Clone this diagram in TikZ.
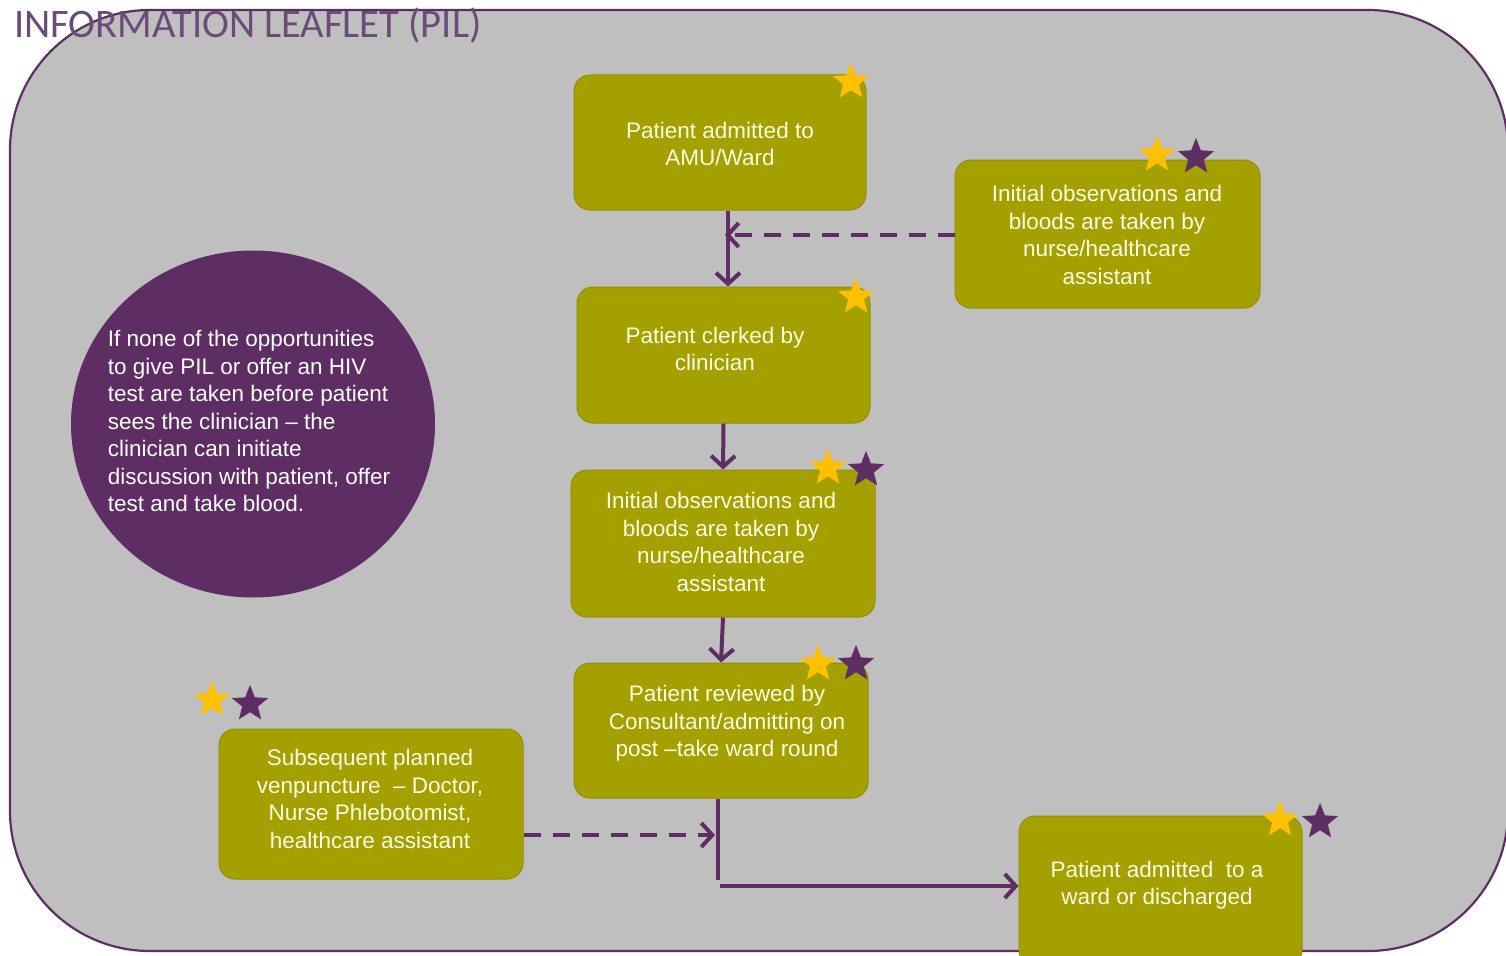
\documentclass[tikz,border=0pt]{standalone}
\usepackage{fontspec}
\setmainfont{Liberation Sans}
\newfontfamily\titlefont{Carlito}
\usetikzlibrary{shapes.geometric,arrows.meta}
\definecolor{bg}{HTML}{BFBFBF}
\definecolor{olive}{HTML}{A3A000}
\definecolor{plum}{HTML}{5E2D63}
\definecolor{gold}{HTML}{FFC000}
\definecolor{cream}{HTML}{FFFFE6}
\definecolor{titlecol}{HTML}{6B4C78}
\begin{document}
\begin{tikzpicture}[x=1pt,y=-1pt,
 stepbox/.style={draw=olive!90!black, line width=1pt, fill=olive, rounded corners=16pt, inner sep=0pt},
 boxtxt/.style={text=cream, align=center, font=\fontsize{22.5}{27.5}\selectfont, inner sep=0pt},
 ystar/.style={star, star points=5, star point ratio=2.3, fill=gold, minimum size=38pt, inner sep=0pt},
 pstar/.style={ystar, fill=plum},
 flow/.style={draw=plum, line width=4pt, -{Straight Barb[length=11pt,width=24pt,line width=4pt]}},
 dflow/.style={flow, dash pattern=on 17pt off 12pt}]
\useasboundingbox (0,0) rectangle (1506,955);
\fill[white] (0,0) rectangle (1506,955);
\draw[plum, line width=2.2pt, fill=bg, rounded corners=140pt] (10,10) rectangle (1508,951);
\node[anchor=north west, text=titlecol, inner sep=0pt, font=\titlefont\fontsize{40.5}{40.5}\selectfont] (title) at (14,8) {INFORMATION LEAFLET (PIL)};

\node[ellipse, fill=plum, minimum width=364pt, minimum height=347pt, inner sep=0pt] (circ) at (253,424) {};
\node[text=white, align=left, inner sep=0pt, font=\fontsize{22.5}{27.5}\selectfont] (circtext) at (249,421) {If none of the opportunities\\to give PIL or offer an HIV\\test are taken before patient\\sees the clinician -- the\\clinician can initiate\\discussion with patient, offer\\test and take blood.};

\node[stepbox, minimum width=292pt, minimum height=135pt] (b1) at (720,142.5) {};
\node[stepbox, minimum width=305pt, minimum height=148pt] (b2) at (1107.5,234) {};
\node[stepbox, minimum width=293pt, minimum height=136pt] (b3) at (723.5,355) {};
\node[stepbox, minimum width=304pt, minimum height=147pt] (b4) at (723,543.5) {};
\node[stepbox, minimum width=294pt, minimum height=135pt] (b5) at (721,730.5) {};
\node[stepbox, minimum width=304pt, minimum height=150pt] (b6) at (371,804) {};
\node[stepbox, minimum width=283pt, minimum height=150pt] (b7) at (1160.5,891) {};

\node[boxtxt] (t1) at (720,144) {Patient admitted to\\AMU/Ward};
\node[boxtxt] (t2) at (1107,235) {Initial observations and\\bloods are taken by\\nurse/healthcare\\assistant};
\node[boxtxt] (t3) at (715,349) {Patient clerked by\\clinician};
\node[boxtxt] (t4) at (721,542) {Initial observations and\\bloods are taken by\\nurse/healthcare\\assistant};
\node[boxtxt] (t5) at (727,723.5) {Patient reviewed by\\Consultant/admitting on\\post --take ward round};
\node[boxtxt] (t6) at (370,799) {Subsequent planned\\venpuncture \ -- Doctor,\\Nurse Phlebotomist,\\healthcare assistant};
\node[boxtxt] (t7) at (1157,885) {Patient admitted \ to a\\ward or discharged};

\node[ystar] (s1) at (851,82) {};
\node[ystar] (s2a) at (1157,155) {};
\node[pstar] (s2b) at (1196,157) {};
\node[ystar] (s3) at (856,297) {};
\node[ystar] (s4a) at (828,468) {};
\node[pstar] (s4b) at (866,470) {};
\node[ystar] (s5a) at (818,664) {};
\node[pstar] (s5b) at (856,664) {};
\node[ystar] (s6a) at (212,700) {};
\node[pstar] (s6b) at (250,704) {};
\node[ystar] (s7a) at (1280,820) {};
\node[pstar] (s7b) at (1320,822) {};

\coordinate (j1) at (728,235);
\coordinate (j2) at (718,886);
\coordinate (j3) at (718,835);
\draw[flow] (j1 |- b1.south) -- (j1 |- b3.north);
\draw[dflow, shorten >=-3pt] (b2.west |- j1) -- (j1);
\draw[flow] (b3.south) -- (b4.north);
\draw[flow] (b4.south) -- (b5.north);
\draw[draw=plum, line width=4pt] (j2 |- b5.south) -- (718,880);
\draw[flow] (720,886) -- (j2 -| b7.west);
\draw[dflow, shorten >=3pt] (b6.east |- j3) -- (j3);
\end{tikzpicture}
\end{document}
